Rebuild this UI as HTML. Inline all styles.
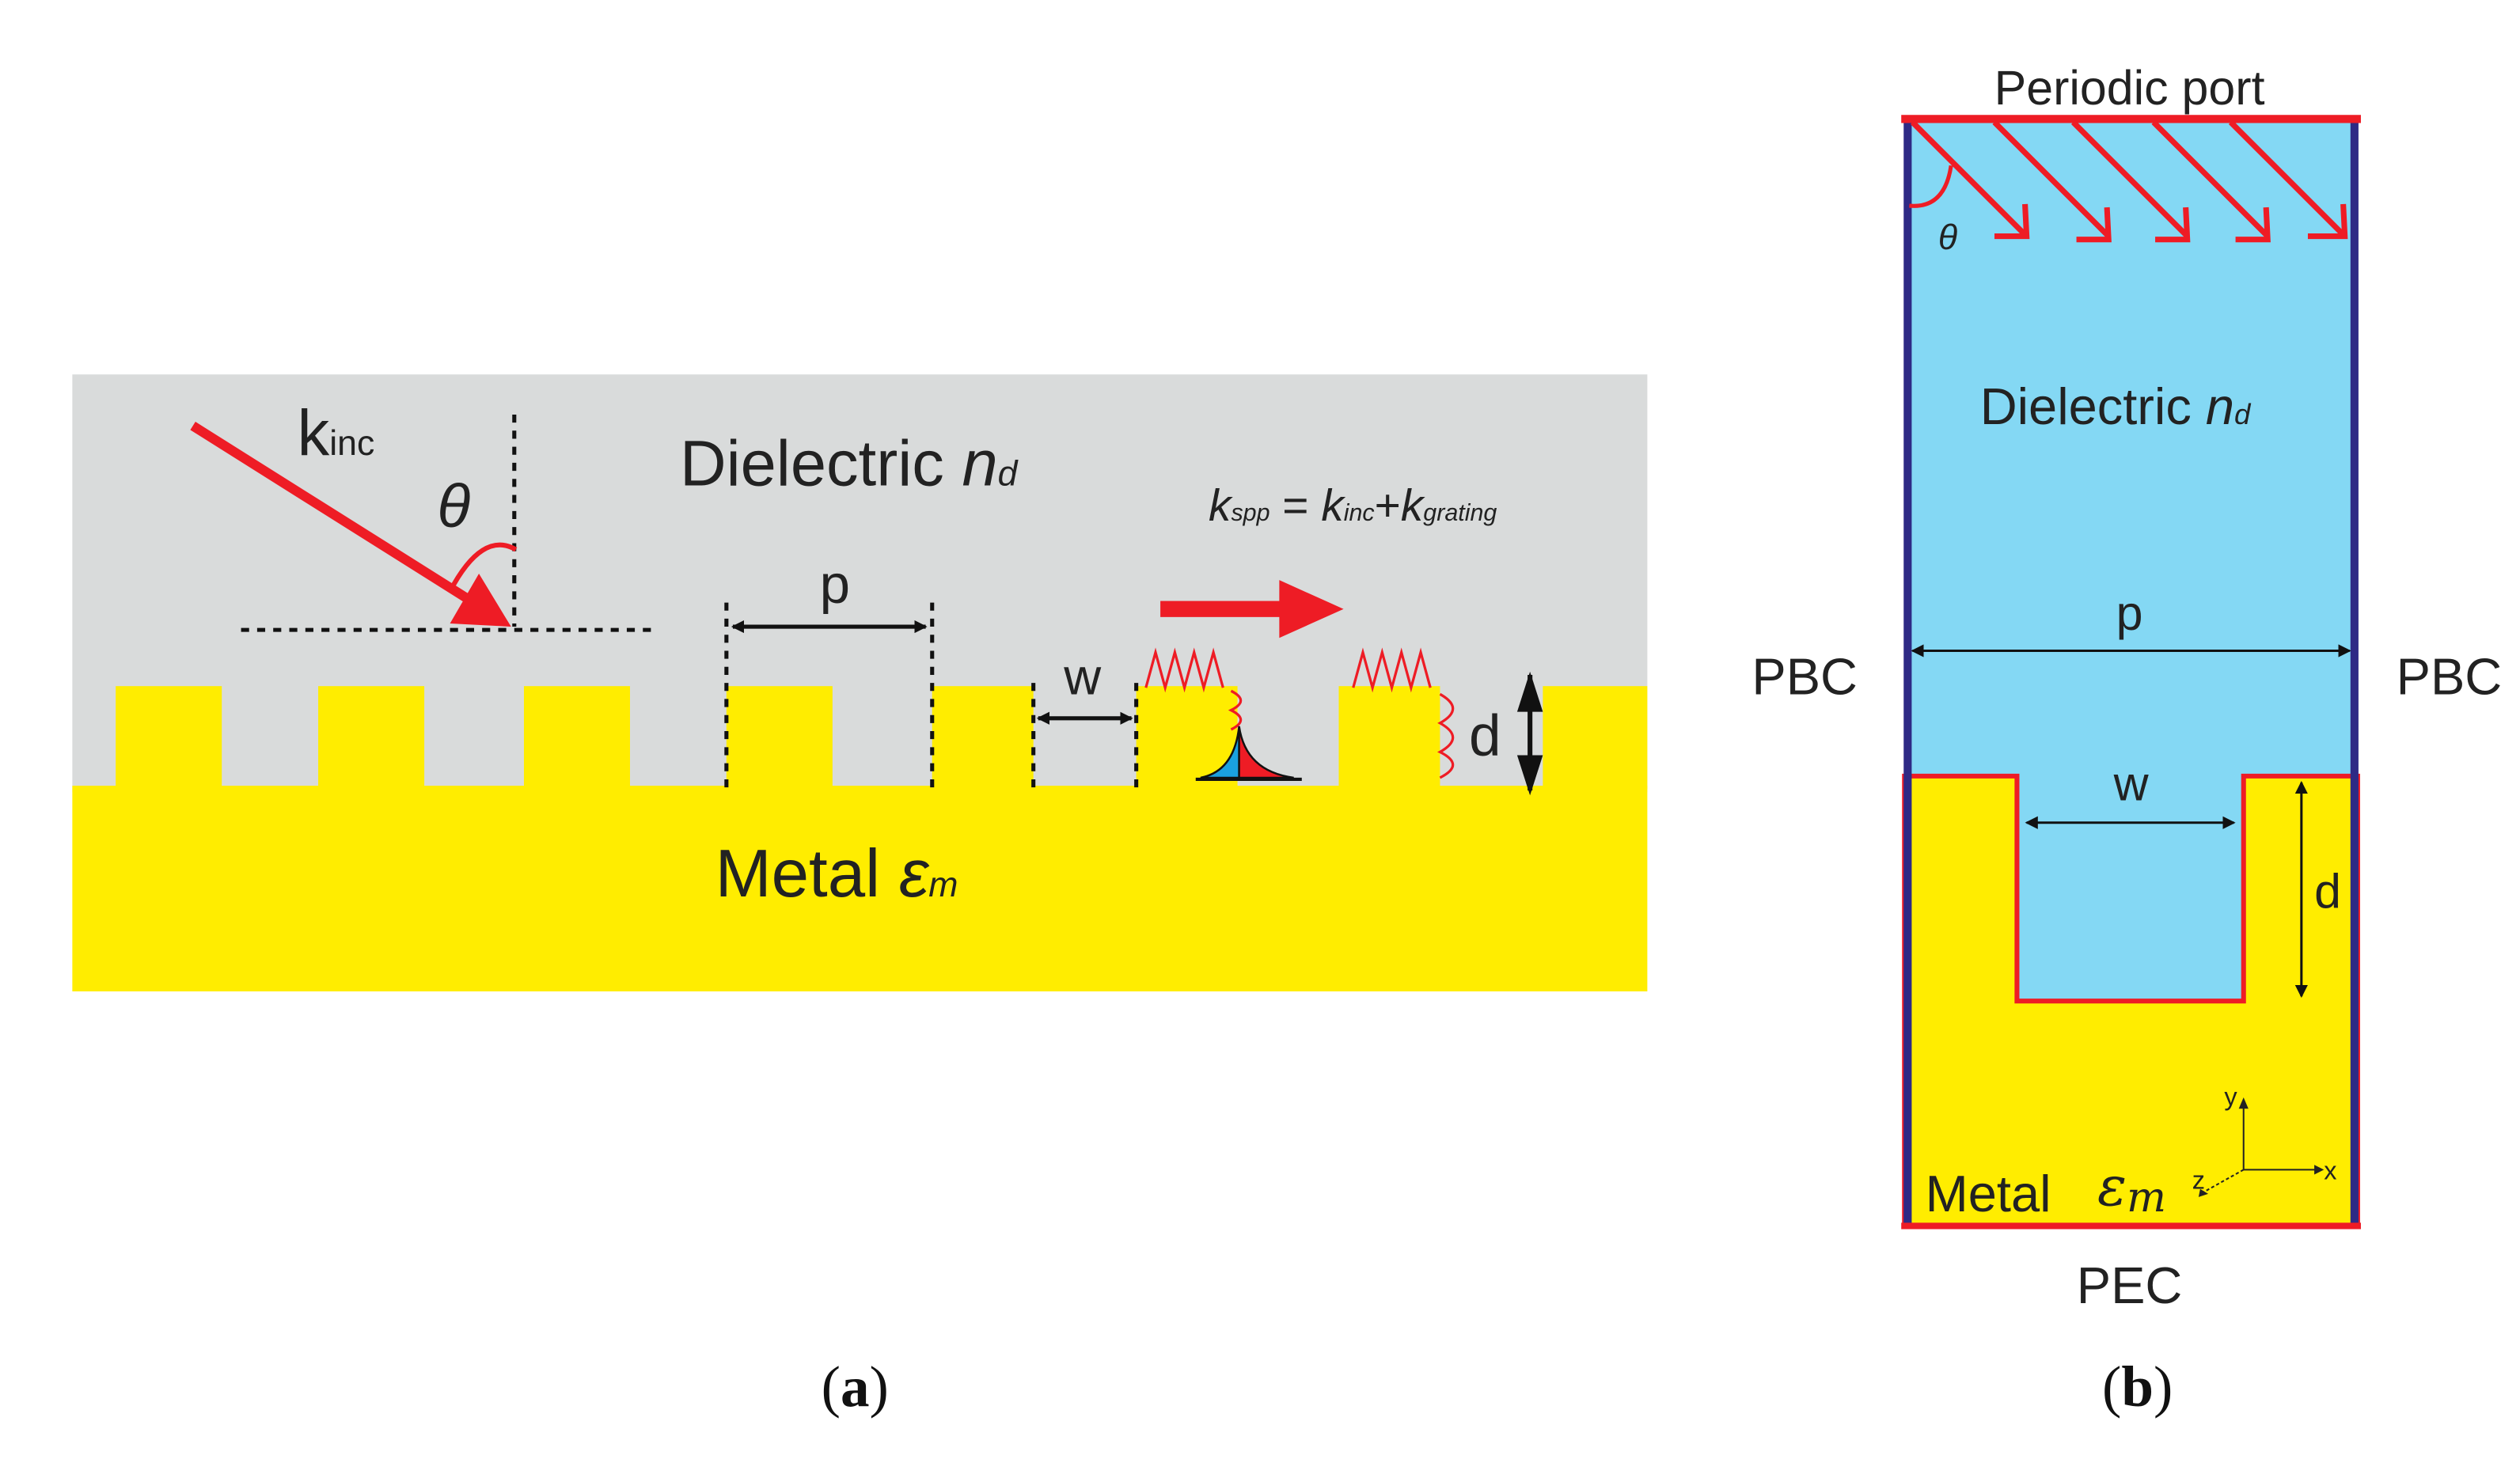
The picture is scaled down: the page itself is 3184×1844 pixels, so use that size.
<!DOCTYPE html>
<html><head><meta charset="utf-8"><style>html,body{margin:0;padding:0;background:#fff}svg{display:block}</style></head>
<body>
<svg width="3184" height="1844" viewBox="0 0 1568 908" xmlns="http://www.w3.org/2000/svg" font-family="Liberation Sans, sans-serif">
<defs>
<marker id="ahb" markerWidth="8" markerHeight="8" refX="7" refY="4" orient="auto-start-reverse" markerUnits="userSpaceOnUse"><path d="M0,0 L8,4 L0,8 z" fill="#111"/></marker>
</defs>
<!-- Panel a -->
<rect x="45" y="233" width="980" height="260" fill="#d9dbdb"/>
<rect x="45" y="489" width="980" height="128" fill="#ffed00"/>
<g fill="#ffed00">
<rect x="72" y="427" width="66" height="64"/>
<rect x="198" y="427" width="66" height="64"/>
<rect x="326" y="427" width="66" height="64"/>
<rect x="452" y="427" width="66" height="64"/>
<rect x="580" y="427" width="63" height="64"/>
<rect x="707" y="427" width="63" height="64"/>
<rect x="833" y="427" width="63" height="64"/>
<rect x="960" y="427" width="65" height="64"/>
</g>
<g stroke="#111" stroke-width="2.5" stroke-dasharray="5,5" fill="none">
<line x1="320" y1="258" x2="320" y2="390"/>
<line x1="150" y1="392" x2="410" y2="392"/>
<line x1="452" y1="375" x2="452" y2="490"/>
<line x1="580" y1="375" x2="580" y2="490"/>
<line x1="643" y1="425" x2="643" y2="490"/>
<line x1="707" y1="425" x2="707" y2="490"/>
</g>
<line x1="120" y1="265" x2="290" y2="372" stroke="#ee1c25" stroke-width="6"/>
<path d="M318,390 L280,388 L298,357 z" fill="#ee1c25"/>
<path d="M280,368 Q300,330 321,342" stroke="#ee1c25" stroke-width="3" fill="none"/>
<text x="185" y="283" font-size="40" fill="#222">k<tspan font-size="22">inc</tspan></text>
<text x="272" y="328" font-size="38" font-style="italic" fill="#222">θ</text>
<text x="423" y="302" font-size="40" fill="#222">Dielectric <tspan font-style="italic">n</tspan><tspan font-size="22" font-style="italic">d</tspan></text>
<line x1="456" y1="390" x2="576" y2="390" stroke="#111" stroke-width="2.5" marker-start="url(#ahb)" marker-end="url(#ahb)"/>
<text x="510" y="375" font-size="34" fill="#222">p</text>
<line x1="646" y1="447" x2="704" y2="447" stroke="#111" stroke-width="2.5" marker-start="url(#ahb)" marker-end="url(#ahb)"/>
<text x="662" y="432" font-size="32" fill="#222">w</text>
<text x="752" y="324" font-size="28" font-style="italic" fill="#222">k<tspan font-size="15">spp</tspan><tspan font-style="normal"> = </tspan>k<tspan font-size="15">inc</tspan><tspan font-style="normal">+</tspan>k<tspan font-size="15">grating</tspan></text>
<rect x="722" y="374" width="76" height="10" fill="#ee1c25"/>
<path d="M796,361 L836,379 L796,397 z" fill="#ee1c25"/>
<g stroke="#ee1c25" stroke-width="1.6" fill="none">
<path d="M713,428 L719,406 L725,428 L731,406 L737,428 L743,406 L749,428 L755,406 L761,428"/>
<path d="M842,428 L848,406 L854,428 L860,406 L866,428 L872,406 L878,428 L884,406 L890,428"/>
<path d="M766,430 Q778,436 766,442 Q778,448 766,454"/>
<path d="M896,432 Q912,441 896,450 Q912,459 896,468 Q912,476 896,484"/>
</g>
<path d="M771,452 Q768,480 747,484 L771,484 z" fill="#1aa1e0" stroke="#111" stroke-width="1.2"/>
<path d="M771,452 Q775,480 805,484 L771,484 z" fill="#ee1c25" stroke="#111" stroke-width="1.2"/>
<line x1="744" y1="485" x2="810" y2="485" stroke="#111" stroke-width="2"/>
<line x1="952" y1="420" x2="952" y2="492" stroke="#111" stroke-width="3"/>
<path d="M944,443 L952,418 L960,443 z" fill="#111"/>
<path d="M944,470 L952,495 L960,470 z" fill="#111"/>
<text x="914" y="470" font-size="36" fill="#222">d</text>
<text x="445" y="558" font-size="42" fill="#222">Metal <tspan font-style="italic">ε</tspan><tspan font-size="22" font-style="italic">m</tspan></text>
<text x="532" y="875" font-size="36" font-family="Liberation Serif, serif" text-anchor="middle" fill="#111">(<tspan font-weight="bold">a</tspan>)</text>

<!-- Panel b -->
<rect x="1185" y="74" width="282" height="689" fill="#84d8f4"/>
<path d="M1185,483 L1255,483 L1255,623 L1396,623 L1396,483 L1467,483 L1467,763 L1185,763 z" fill="#ffed00" stroke="#ee1c25" stroke-width="3"/>
<line x1="1187" y1="74" x2="1187" y2="763" stroke="#2e2a85" stroke-width="5"/>
<line x1="1465" y1="74" x2="1465" y2="763" stroke="#2e2a85" stroke-width="5"/>
<line x1="1183" y1="74" x2="1469" y2="74" stroke="#ee1c25" stroke-width="5"/>
<line x1="1183" y1="763" x2="1469" y2="763" stroke="#ee1c25" stroke-width="4"/>
<text x="1325" y="65" font-size="30" text-anchor="middle" fill="#222">Periodic port</text>
<g stroke="#ee1c25" stroke-width="3.5" fill="none">
<path d="M1190,76 L1261,147 M1241,76 L1312,147 M1290,76 L1361,147 M1340,76 L1411,147 M1388,76 L1459,147"/>
<path d="M1241,147 L1261,147 L1260,127 M1292,149 L1312,149 L1311,129 M1341,149 L1361,149 L1360,129 M1391,149 L1411,149 L1410,129 M1436,147 L1459,147 L1458,127"/>
<path d="M1188,128 Q1210,130 1214,103" stroke-width="2.5"/>
</g>
<text x="1206" y="155" font-size="22" font-style="italic" fill="#222">θ</text>
<text x="1232" y="264" font-size="32" fill="#222">Dielectric <tspan font-style="italic">n</tspan><tspan font-size="18" font-style="italic">d</tspan></text>
<line x1="1190" y1="405" x2="1462" y2="405" stroke="#111" stroke-width="1.5" marker-start="url(#ahb)" marker-end="url(#ahb)"/>
<text x="1325" y="392" font-size="30" text-anchor="middle" fill="#222">p</text>
<text x="1090" y="432" font-size="32" fill="#222">PBC</text>
<text x="1491" y="432" font-size="32" fill="#222">PBC</text>
<line x1="1261" y1="512" x2="1390" y2="512" stroke="#111" stroke-width="1.5" marker-start="url(#ahb)" marker-end="url(#ahb)"/>
<text x="1326" y="498" font-size="30" text-anchor="middle" fill="#222">w</text>
<line x1="1432" y1="487" x2="1432" y2="620" stroke="#111" stroke-width="1.5" marker-start="url(#ahb)" marker-end="url(#ahb)"/>
<text x="1440" y="565" font-size="30" fill="#222">d</text>
<g stroke="#222" stroke-width="1" fill="none">
<line x1="1396" y1="728" x2="1396" y2="688"/>
<line x1="1396" y1="728" x2="1442" y2="728"/>
<line x1="1396" y1="728" x2="1371" y2="742" stroke-dasharray="2,1.5"/>
</g>
<path d="M1393,690 L1396,683 L1399,690 z M1440,725 L1446,728 L1440,731 z M1369,740 L1368,745 L1374,743 z" fill="#222"/>
<text x="1384" y="688" font-size="16" fill="#222">y</text>
<text x="1446" y="734" font-size="16" fill="#222">x</text>
<text x="1364" y="740" font-size="16" fill="#222">z</text>
<text x="1198" y="754" font-size="32" fill="#222">Metal</text>
<text x="1305" y="750" font-size="34" font-style="italic" font-family="DejaVu Serif, serif" fill="#222">ε<tspan font-size="26" dy="4">m</tspan></text>
<text x="1325" y="811" font-size="32" text-anchor="middle" fill="#222">PEC</text>
<text x="1330" y="875" font-size="36" font-family="Liberation Serif, serif" text-anchor="middle" fill="#111">(<tspan font-weight="bold">b</tspan>)</text>
</svg>
</body></html>
